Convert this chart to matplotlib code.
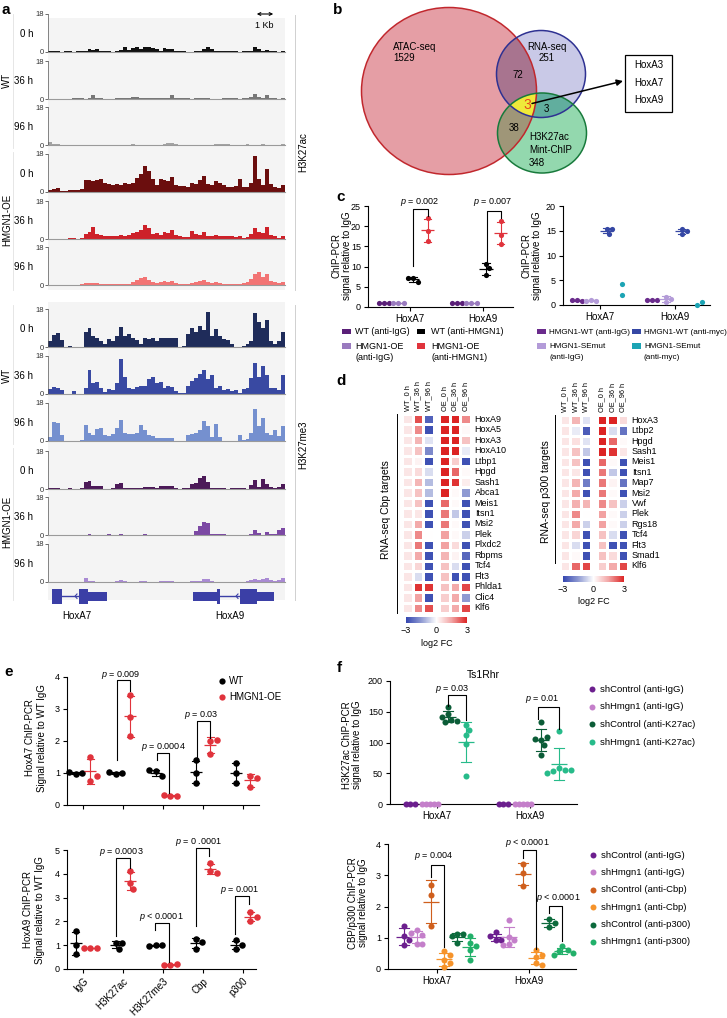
import numpy as np
import matplotlib
matplotlib.use('Agg')
import matplotlib.pyplot as plt
from matplotlib.patches import Ellipse, Rectangle, FancyArrowPatch
from matplotlib.colors import LinearSegmentedColormap, Normalize, to_rgb
from matplotlib.cm import ScalarMappable
from matplotlib.lines import Line2D

plt.rcParams['font.family'] = ['Liberation Sans', 'DejaVu Sans']
plt.rcParams['mathtext.fontset'] = 'custom'
plt.rcParams['mathtext.it'] = 'Liberation Sans:italic'
plt.rcParams['mathtext.rm'] = 'Liberation Sans'
plt.rcParams['font.size'] = 6.5

# ---------------- DATA ----------------
# panel a: binned track signal (60 bins across the locus), scale 0-18
ac_wt_0h = [0.3,0.3,0.3,0,0.3,0.3,0,0.3,0.3,0.3, 1.5,1.0,1.3,0.6,0.5,0.3,0,0.3,1.0,2.5,
            0.8,1.8,2.4,1.6,2.2,2.6,1.8,1.2,0.3,1.8, 1.4,1.2,0.6,0.3,0.3,0,0,0.3,0.3,1.5,
            2.6,1.2,0.4,0.3,0.3,0.3,0.3,0.3,0,0.3, 0.6,0.3,2.4,1.4,0.6,1.0,0.5,0.3,0,0.6]
ac_wt_36h = [0,0,0,0,0,0,0.3,0.3,0.3,0, 0.3,1.9,0.6,0.3,0,0,0,0.3,0.3,0.3,
             0.3,1.1,0.8,0.6,0.6,0.6,0.6,0.5,0.5,0.5, 0.5,1.9,0.3,0.3,0.3,0.3,0,0.3,0.3,0.3,
             0.3,0,0,0,0.3,0.3,0.3,0.3,0,0.3, 0.3,0.8,2.5,1.0,0.3,2.0,0.5,0.3,0,0.3]
ac_wt_96h = [1.2,0.3,0.3,0.2,0.2,0,0.2,0.2,0.2,0, 0.2,0.2,0,0.2,0.2,0,0.2,0.2,0.2,0,
             0.2,0.5,0.2,0.2,0.2,0,0.2,0.2,0.2,0.3, 1.0,1.0,0.3,0.2,0.2,0,0.2,0.2,0.2,0.2,
             0.2,0.2,0.5,0.5,0.5,0.5,0.2,0.2,0.2,0.2, 0.5,0.2,0.2,0.2,0.3,0.2,0.2,0.2,0.2,0.6]
ac_oe_0h = [0.8,1.3,1.8,0.4,0.4,0.8,1.0,0.9,1.5,5.5, 5.5,5.3,5.5,6.2,4.5,3.8,3.2,4.0,3.5,4.5,
            3.8,4.5,6.5,8.5,12.5,10,6,3.5,6,5.5, 5,7.3,3.5,3,2.8,2.5,4.5,3.8,5.5,7.5,
            4,3.5,5,4.2,3.5,2.5,2.2,3,6,2.5, 2.2,4.5,17,6,3.5,11,4,2.5,2,3.5]
ac_oe_36h = [0,0,0,0,0.2,0.4,0.3,0,0.3,2.5, 3.5,5.5,2.5,2,1.5,1.5,1.2,1.5,1.8,1.2,
             2,3,3.2,4.5,6.5,5,2.5,3,2,3.5, 3,4.5,2,1.2,1,1,4,2.5,2,3.2,
             1.5,1.5,2,1.5,1.5,1.5,1.2,1,1.5,0.5, 0.8,2.5,5,3.5,3,5.5,2,1.5,0.5,1.2]
ac_oe_96h = [0.2,0.2,0.2,0.2,0.2,0.2,0.2,0.2,0.3,1, 0.8,1,0.8,0.5,0.6,0.6,0.6,0.6,0.6,0.6,
             0.6,1.5,2.5,3.5,4,2.5,1.5,1,1.5,1.8, 1.5,1.8,1,0.5,0.5,0.5,1,1.5,1.8,2.5,
             1.5,1,1.2,0.8,0.5,0.5,0.5,0.5,0.5,0.8, 1.5,3,5,6,4,5,2,1.5,1,1.5]
me_wt_0h = [3,5.5,6.5,3.5,0,0.6,0.2,0,0,7, 9,5,4.5,3,1.5,4,3,5,9.5,5,
            6,4.5,3.5,1.5,4.5,4,4.5,3,4.5,4.5, 4.5,4.5,4.5,0,0.5,6,9,7,10,8,
            16.5,5,8.5,5,4,3.5,1.2,0.2,0.2,0.3, 1.5,3,16,12,9,13,3,1.5,3,7]
me_wt_36h = [2.5,3.5,3,2,0,0.2,1.5,0,0,3, 11.5,5,5.5,3,1,2.5,2,5,16.5,8,
             3,2.5,3.5,4,4,7,8,5,5.5,3, 4,3.5,1.5,0.3,0.3,4,6,7.5,9.5,11.5,
             7,9,3,4,2,2.5,1.5,2,0.3,2.5, 3,7.5,14.5,8,13.5,9,3,3,2,9]
me_wt_96h = [2,9,8.5,3,0.2,0.2,0.2,0.2,0.5,7.5, 4,3,5.5,6,3,2.5,3.5,6,10,4,
             3.5,3.5,4,7.5,5,3,2.5,1.5,1.5,1.5, 1.5,1.5,0.2,0.2,0.2,3,3.5,4,5,9.5,
             7,2,8,2,0.2,0.2,0.2,0.2,3,0.5, 1,4,15,7,11,4,3,5,2.5,7]
me_oe_0h = [0.3,0.3,0.3,0,0,0.3,0,0,0.3,3.5, 4,1.5,1.5,1.5,0.2,0.2,0.3,2.5,3,0.5,
            0.3,0.3,0.3,0.5,1,1,0.8,0.5,1.2,1.5, 1.5,1.5,0.3,0,0.3,0.3,2.5,3,5,6,
            3.5,0.3,0.3,0.3,0.3,0,0.3,0.3,0.3,0.3, 0,2,4.3,1,4.8,2.5,1,0.3,1,2.5]
me_oe_36h = [0.2,0.2,0.2,0.2,0.2,0.2,0.2,0.2,0.2,0.2, 0.3,0.2,0.2,0.2,0.2,0.3,0.2,0.2,0.3,0.2,
             0.2,0.2,0.2,0.2,0.3,0.2,0.2,0.2,0.2,0.2, 0.2,0.2,0.2,0.2,0.2,0.2,0.2,2,4.5,6,
             5.5,0.5,0.3,0.3,0.3,0.2,0.2,0.2,0.2,0.2, 0.2,0.3,2.5,1,0.2,1.5,0.5,0.3,2.5,3.5]
me_oe_96h = [0.2,0.2,0.2,0.2,0.2,0.2,0.2,0.2,0.2,2, 0.5,0.3,0.2,0.2,0.2,0.2,0.2,0.3,1,0.3,
             0.2,0.2,0.2,0.3,0.3,0.2,0.2,0.2,0.3,0.3, 0.3,0.3,0.2,0.2,0.2,0.2,0.3,0.3,0.5,1.2,
             1.5,0.3,0.2,0.2,0.2,0.2,0.2,0.2,0.2,0.2, 0.3,0.8,1.5,0.8,1.5,1.8,0.8,0.5,0.8,2]
time_labels = ['0 h', '36 h', '96 h']
genes_a = ['HoxA7', 'HoxA9']

# panel b
venn_names = ['ATAC-seq', 'RNA-seq', 'H3K27ac\nMint-ChIP']
venn_only = [1529, 251, 348]
venn_ab, venn_ac, venn_bc, venn_abc = 72, 38, 3, 3
venn_genes = ['HoxA3', 'HoxA7', 'HoxA9']

# panel c
c_genes = ['HoxA7', 'HoxA9']
c_wt_igg = [[1.0, 0.9, 1.05], [1.0, 1.0, 1.0]]
c_oe_igg = [[1.1, 1.0, 1.0], [1.1, 1.0, 1.0]]
c_wt_hmgn1 = [[7.2, 6.2, 7.3], [10.7, 9.6, 7.8]]
c_oe_hmgn1 = [[22.0, 18.7, 16.3], [21.2, 17.9, 15.7]]
c_p_left = ['p = 0.002', 'p = 0.007']
c2_wt_igg = [[1.0, 0.9, 1.0], [1.0, 1.0, 1.0]]
c2_se_igg = [[1.1, 0.9, 0.9], [1.7, 0.6, 1.2]]
c2_wt_myc = [[15.3, 14.4, 15.3], [15.3, 15.0, 14.3]]
c2_se_myc = [[4.2, 2.1], [0.1, 0.6]]

# panel d
d_cols = ['WT_0 h', 'WT_36 h', 'WT_96 h', 'OE_0 h', 'OE_36 h', 'OE_96 h']
cbp_genes = ['HoxA9', 'HoxA5', 'HoxA3', 'HoxA10', 'Ltbp1', 'Hpgd', 'Sash1', 'Abca1', 'Meis1',
             'Itsn1', 'Msi2', 'Plek', 'Plxdc2', 'Rbpms', 'Tcf4', 'Flt3', 'Phlda1', 'Clic4', 'Klf6']
cbp_fc = [[0.4, 2.5, -2.5, 3, 3, 1.8],
          [0.4, 1.8, -2.8, 3, 3, 0.1],
          [0.4, 1.2, -0.4, 3, 3, 1.0],
          [0.4, 1.0, -1.8, 3, 3, -0.3],
          [0.4, 0.2, -2.8, 3, 0.8, -2.8],
          [0.4, 0.6, -0.5, 3, 2.2, 0.1],
          [0.4, 1.2, -1.0, 3, 2.8, 0.3],
          [0.4, 1.0, -1.0, 3, 0.1, -1.5],
          [0.4, 1.0, -2.8, 2.2, 0.1, -2.8],
          [0.4, 0.4, -2.8, 2.0, -0.8, -2.8],
          [0.4, 1.4, -2.8, 2.0, 0.1, -2.8],
          [0.4, 1.8, 0.0, 1.5, 0.1, -0.7],
          [0.4, 2.0, -2.8, 1.5, 0.6, -2.8],
          [0.4, 1.4, -2.8, 1.2, 0.2, -2.4],
          [0.4, 0.7, -2.8, 1.0, -0.5, -2.8],
          [0.4, -0.5, -2.8, 1.0, -2.8, -2.8],
          [0.4, 2.8, 2.8, 1.0, 1.4, 2.6],
          [0.4, 1.5, -2.8, 0.8, 1.4, -1.5],
          [0.4, 1.8, 2.5, 0.8, 1.4, 2.6]]
p300_genes = ['HoxA3', 'Ltbp2', 'Hpgd', 'Sash1', 'Meis1', 'Itsn1', 'Map7', 'Msi2', 'Vwf', 'Plek',
              'Rgs18', 'Tcf4', 'Flt3', 'Smad1', 'Klf6']
p300_fc = [[0.4, 1.2, -0.4, 3, 3, 0.6],
           [0.4, -0.3, -2.6, 3, -0.5, -2.2],
           [0.4, 0.5, -0.4, 3, 2.2, 0.1],
           [0.4, 1.0, -0.8, 3, 2.8, 0.4],
           [0.4, 1.0, -2.8, 2.2, 0.1, -2.8],
           [0.4, 0.4, -2.8, 2.0, -0.8, -2.8],
           [0.4, 1.2, -2.0, 2.0, 0.2, -2.2],
           [0.4, 1.4, -2.8, 2.0, 0.1, -2.8],
           [0.4, 1.3, 1.2, 1.8, 1.0, -0.7],
           [0.4, 1.8, 0.0, 1.5, 0.1, -0.7],
           [0.4, 1.4, -0.7, 1.5, 0.1, -0.7],
           [0.4, 0.7, -2.8, 1.0, -0.5, -2.8],
           [0.4, -0.5, -2.8, 1.0, -2.8, -2.8],
           [0.4, 0.1, -2.8, 1.0, 0.6, -2.8],
           [0.4, 2.2, 2.6, 0.8, 1.4, 2.6]]

# panel e
e_cats = ['IgG', 'H3K27ac', 'H3K27me3', 'Cbp', 'p300']
e7_wt = [[0.97, 1.0, 1.02], [0.98, 1.0, 1.02], [1.05, 0.9, 1.08], [1.4, 1.0, 0.7], [1.3, 1.0, 0.7]]
e7_oe = [[1.5, 0.75, 0.9], [3.43, 2.75, 2.15], [0.28, 0.27, 0.3], [2.0, 2.02, 1.6], [0.9, 0.85, 0.55]]
e9_wt = [[1.6, 1.0, 0.65], [1.1, 0.85, 1.1], [1.0, 1.02, 0.98], [1.25, 1.15, 0.85], [1.2, 0.85, 1.0]]
e9_oe = [[0.87, 0.87, 0.87], [4.1, 3.6, 3.35], [0.18, 0.2, 0.17], [4.45, 4.1, 4.05], [2.4, 2.2, 2.0]]
e7_p = {1: 'p = 0.009', 2: 'p = 0.0004', 3: 'p = 0.03'}
e9_p = {1: 'p = 0.0003', 2: 'p < 0.0001', 3: 'p = 0 .0001', 4: 'p = 0.001'}

# panel f
f_genes = ['HoxA7', 'HoxA9']
f1_shc_igg = [[0, 0, 0], [0, 0, 0]]
f1_shh_igg = [[0, 0, 0, 0, 0], [0, 0, 0, 0, 0]]
f1_shc_k27 = [[157, 146, 137, 134, 135, 142], [134, 104, 109, 105, 96, 79]]
f1_shh_k27 = [[129, 112, 120, 97, 46], [118, 58, 55, 53, 55, 51]]
f2_shc_igg = [[1.39, 1.07, 0.94, 0.76], [1.17, 0.93, 0.92, 1.05]]
f2_shh_igg = [[1.24, 1.1, 0.81, 0.81, 1.15], [1.58, 1.02, 0.94, 0.81, 0.78]]
f2_shc_cbp = [[2.7, 2.38, 1.39], [3.36, 3.07, 2.67]]
f2_shh_cbp = [[0.57, 0.46, 0.3, 0.19, 0.05], [0.6, 0.46, 0.4, 0.19, 0.14]]
f2_shc_p300 = [[1.12, 1.12, 0.83, 1.05], [1.6, 1.47, 1.34]]
f2_shh_p300 = [[1.07, 0.83, 0.73, 0.62, 0.28], [0.73, 0.6, 0.57, 0.46, 0.51]]

# ---------------- FIGURE ----------------
W, H = 727, 1018
fig = plt.figure(figsize=(W / 100, H / 100), dpi=100)


def PX(l, t, r, b, **kw):
    return fig.add_axes([l / W, 1 - b / H, (r - l) / W, (b - t) / H], **kw)


def T(x, y, s, **kw):
    kw.setdefault('ha', 'center')
    kw.setdefault('va', 'center')
    return fig.text(x / W, 1 - y / H, s, **kw)


def FL(xs, ys, **kw):
    fig.add_artist(Line2D([x / W for x in xs], [1 - y / H for y in ys], transform=fig.transFigure, **kw))


def pfmt(s):
    return '$p$' + s[1:]


# panel letters
for (lx, ly, lt) in [(2, 10, 'a'), (333, 10, 'b'), (336, 197, 'c'), (336, 381, 'd'), (4, 672, 'e'), (337, 668, 'f')]:
    T(lx, ly, lt, fontsize=11, fontweight='bold', ha='left')

# ---------------- panel a ----------------
ac_tracks = [ac_wt_0h, ac_wt_36h, ac_wt_96h, ac_oe_0h, ac_oe_36h, ac_oe_96h]
me_tracks = [me_wt_0h, me_wt_36h, me_wt_96h, me_oe_0h, me_oe_36h, me_oe_96h]
ac_cols = ['#111111', '#777777', '#a3a3a3', '#6b0e0e', '#cd2129', '#f27474']
me_cols = ['#1f2c5a', '#3949a2', '#7590cf', '#4c1a58', '#7c49a4', '#a98ad3']
ac_tops = [14, 61, 107, 154, 201, 247]
me_tops = [309, 356, 403, 451, 497, 544]

for (y0, y1) in [(18, 290), (302, 600)]:
    bg = PX(48, y0, 285, y1)
    bg.set_facecolor('#f4f4f4')
    bg.set_xticks([]); bg.set_yticks([])
    for s in bg.spines.values():
        s.set_visible(False)


def draw_track(top, vals, col):
    ax = PX(48, top, 285, top + 38)
    ax.patch.set_alpha(0)
    v = np.asarray(vals, float)
    edges = np.arange(len(v) + 1)
    ax.fill_between(edges, np.append(v, v[-1]), step='post', color=col, lw=0)
    ax.set_xlim(0, len(v)); ax.set_ylim(0, 18)
    ax.set_xticks([])
    ax.set_yticks([0, 18])
    ax.tick_params(axis='y', labelsize=5.5, length=2, width=0.5, pad=1, colors='#333333')
    for s in ['top', 'right']:
        ax.spines[s].set_visible(False)
    ax.spines['left'].set_color('#555555'); ax.spines['left'].set_linewidth(0.5)
    ax.spines['bottom'].set_color('#9a9a9a'); ax.spines['bottom'].set_linewidth(0.8)


for i in range(6):
    draw_track(ac_tops[i], ac_tracks[i], ac_cols[i])
    T(33, ac_tops[i] + 20, time_labels[i % 3], ha='right', fontsize=7)
    draw_track(me_tops[i], me_tracks[i], me_cols[i])
    T(33, me_tops[i] + 20, time_labels[i % 3], ha='right', fontsize=7)

for (yc, lab) in [(80, 'WT'), (220, 'HMGN1-OE'), (375, 'WT'), (522, 'HMGN1-OE')]:
    T(7, yc, lab, rotation=90, fontsize=7)
for (ya, yb) in [(14, 148), (152, 290), (305, 444), (448, 600)]:
    FL([13, 13], [ya, yb], color='#e2e2e2', lw=0.6)
FL([295, 295], [15, 290], color='#d0d0d0', lw=0.7)
FL([295, 295], [305, 600], color='#d0d0d0', lw=0.7)
T(303, 152, 'H3K27ac', rotation=90, fontsize=7)
T(303, 445, 'H3K27me3', rotation=90, fontsize=7)
fig.add_artist(FancyArrowPatch((254 / W, 1 - 14 / H), (276 / W, 1 - 14 / H), transform=fig.transFigure,
                               arrowstyle='<->', mutation_scale=5, lw=0.8, color='black'))
T(264, 25, '1 Kb', fontsize=6.5)

# gene models
gax = PX(48, 584, 285, 608)
gax.set_xlim(48, 285); gax.set_ylim(608, 584); gax.axis('off')
gcol = '#3b3fa6'
gene_models = [  # (tall exons, short utr boxes, intron span, arrow x)
    ([(51.7, 61.7), (79, 88.3)], [(88.3, 107.3)], (61.7, 79), 75),
    ([(216.7, 220.5), (240, 256.7)], [(193.3, 216.7), (256.7, 274)], (220.5, 240), 236),
]
for tall, short, intr, ax_ in gene_models:
    for a, b in tall:
        gax.add_patch(Rectangle((a, 588.5), b - a, 15.5, color=gcol, lw=0))
    for a, b in short:
        gax.add_patch(Rectangle((a, 591.8), b - a, 9, color=gcol, lw=0))
    gax.plot(intr, [596.2, 596.2], color=gcol, lw=1)
    gax.plot([ax_ + 2, ax_, ax_ + 2], [594, 596.2, 598.4], color=gcol, lw=0.8)
T(77, 616, genes_a[0], fontsize=7)
T(230, 616, genes_a[1], fontsize=7)

# ---------------- panel b ----------------
vax = PX(330, 0, 727, 190)
vax.set_xlim(330, 727); vax.set_ylim(190, 0); vax.axis('off')
circA = ((449, 91), 175, 167)
circB = ((541, 74), 89, 87)
circC = ((542, 133), 89, 80)
gx, gy = np.meshgrid(np.arange(330, 727, 0.5) + 0.25, np.arange(0, 190, 0.5) + 0.25)


def inside(c):
    (cx, cy), w, h = c
    return ((gx - cx) / (w / 2)) ** 2 + ((gy - cy) / (h / 2)) ** 2 <= 1


iA, iB, iC = inside(circA), inside(circB), inside(circC)
img = np.ones(gx.shape + (4,))
img[..., 3] = 0
region_cols = [
    (iA & ~iB & ~iC, '#e59ea5'), (iB & ~iA & ~iC, '#c9c9e7'), (iC & ~iA & ~iB, '#93d8ae'),
    (iA & iB & ~iC, '#a8758f'), (iA & iC & ~iB, '#a09679'), (iB & iC & ~iA, '#62ae9f'),
    (iA & iB & iC, '#f0ea3a')]
for m, c in region_cols:
    img[m, :3] = to_rgb(c)
    img[m, 3] = 1
vax.imshow(img, extent=(330, 727, 190, 0), interpolation='bilinear', zorder=1)
for c, ec in [(circA, '#c1272d'), (circB, '#2e3192'), (circC, '#177a3b')]:
    vax.add_patch(Ellipse(c[0], c[1], c[2], fill=False, ec=ec, lw=1.1, zorder=2))
vax.text(393, 47, venn_names[0], ha='left', va='center', fontsize=7)
vax.text(393, 58, str(venn_only[0]), ha='left', va='center', fontsize=7)
vax.text(547, 47, venn_names[1], ha='center', va='center', fontsize=7)
vax.text(547, 58, str(venn_only[1]), ha='center', va='center', fontsize=7)
vax.text(529, 137, 'H3K27ac', ha='left', va='center', fontsize=7)
vax.text(529, 150, 'Mint-ChIP', ha='left', va='center', fontsize=7)
vax.text(529, 163, str(venn_only[2]), ha='left', va='center', fontsize=7)
vax.text(518, 75, str(venn_ab), ha='center', va='center', fontsize=7)
vax.text(514, 128, str(venn_ac), ha='center', va='center', fontsize=7)
vax.text(546, 109, str(venn_bc), ha='center', va='center', fontsize=7)
vax.text(527, 105, str(venn_abc), ha='center', va='center', fontsize=10, color='#e8461e')
vax.add_patch(FancyArrowPatch((532, 103.5), (623, 81), arrowstyle='-|>', mutation_scale=9, lw=1.1,
                              color='black', zorder=4, shrinkA=0, shrinkB=0))
vax.add_patch(Rectangle((625, 55), 47, 57, fill=False, ec='black', lw=0.9, zorder=4))
for k, g in enumerate(venn_genes):
    vax.text(648.5, 65 + 17.5 * k, g, ha='center', va='center', fontsize=7)


# ---------------- helpers for dot plots ----------------
def swarm(vals, ppx, ppy, d):
    placed = []
    offs = []
    for v in vals:
        y = v * ppy
        for k in [0, 1, -1, 2, -2, 3, -3, 4, -4, 5, -5, 6, -6]:
            xo = k * d * 0.5
            if all((xo - px) ** 2 + (y - py) ** 2 >= (0.95 * d) ** 2 for px, py in placed):
                break
        placed.append((xo, y))
        offs.append(xo / ppx)
    return np.array(offs)


def group(ax, x, vals, color, s, ppx, ppy, d, bars=True, hw=0.09, cw=0.05, lw=0.9, ecolor=None):
    v = np.asarray(vals, float)
    offs = swarm(v, ppx, ppy, d)
    ax.scatter(x + offs, v, s=s, color=color, zorder=3, linewidths=0, clip_on=False)
    if bars and len(v) > 1:
        ec = ecolor or color
        m, sd = v.mean(), v.std(ddof=1)
        ax.plot([x - hw, x + hw], [m, m], color=ec, lw=lw, zorder=4, solid_capstyle='butt')
        ax.plot([x, x], [m - sd, m + sd], color=ec, lw=lw * 0.9, zorder=4)
        for yy in (m - sd, m + sd):
            ax.plot([x - cw, x + cw], [yy, yy], color=ec, lw=lw * 0.9, zorder=4)


def style(ax):
    for s in ['top', 'right']:
        ax.spines[s].set_visible(False)
    for s in ['left', 'bottom']:
        ax.spines[s].set_linewidth(0.8)
    ax.tick_params(labelsize=6.5, length=3, width=0.8, pad=2)
    ax.patch.set_alpha(0)


def bracket(ax, x1, x2, y1, y2, ytop, txt, ty, tx=None, fs=6.5):
    ax.plot([x1, x1, x2, x2], [y1, ytop, ytop, y2], color='black', lw=0.8, zorder=5, clip_on=False)
    ax.text((x1 + x2) / 2 if tx is None else tx, ty, pfmt(txt), ha='center', va='center', fontsize=fs,
            clip_on=False)


# ---------------- panel c ----------------
c1 = PX(368, 206, 513, 307)
style(c1)
c1.set_xlim(-0.575, 1.41); c1.set_ylim(0, 25)
c1.set_yticks([0, 5, 10, 15, 20, 25]); c1.set_xticks([0, 1]); c1.set_xticklabels(c_genes, fontsize=7)
ppx1, ppy1 = 73, 101 / 25
c_left_groups = [(c_wt_igg, '#5a1f78', -0.36), (c_oe_igg, '#9a7bbf', -0.16),
                 (c_wt_hmgn1, '#000000', 0.04), (c_oe_hmgn1, '#e0333c', 0.24)]
for gi in range(2):
    for vals, col, off in c_left_groups:
        group(c1, gi + off, vals[gi], col, 14, ppx1, ppy1, 5.2)
bracket(c1, 0.04, 0.24, 10.2, 22.6, 24.3, c_p_left[0], 25.9, tx=0.14, fs=6.5)
bracket(c1, 1.05, 1.24, 11.1, 22.0, 23.7, c_p_left[1], 25.9, tx=1.14, fs=6.5)
T(342, 256, 'ChIP-PCR\nsignal relative to IgG', rotation=90, fontsize=7, linespacing=1.1)

c2 = PX(563, 206, 710, 305)
style(c2)
c2.set_xlim(-0.493, 1.467); c2.set_ylim(0, 20)
c2.set_yticks([0, 5, 10, 15, 20]); c2.set_xticks([0, 1]); c2.set_xticklabels(c_genes, fontsize=7)
ppx2, ppy2 = 75, 99 / 20
c_right_groups = [(c2_wt_igg, '#6a2b8c', -0.31, True), (c2_se_igg, '#b39bd8', -0.12, True),
                  (c2_wt_myc, '#3547a4', 0.09, True), (c2_se_myc, '#1ca4b4', 0.29, False)]
for gi in range(2):
    for vals, col, off, bars in c_right_groups:
        group(c2, gi + off, vals[gi], col, 14, ppx2, ppy2, 5.2, bars=bars)
T(532, 256, 'ChIP-PCR\nsignal relative to IgG', rotation=90, fontsize=7, linespacing=1.1)


def rect_leg(x, y, col, lines, tx, fs=6.5):
    fig.add_artist(Rectangle((x / W, 1 - (y + 2.5) / H), 8.5 / W, 5 / H, transform=fig.transFigure,
                             color=col, lw=0))
    for k, ln in enumerate(lines):
        T(tx, y + 11.5 * k, ln, ha='left', fontsize=fs)


rect_leg(342, 332, '#5a1f78', ['WT (anti-IgG)'], 355)
rect_leg(417, 332, '#000000', ['WT (anti-HMGN1)'], 431)
rect_leg(342, 346, '#9a7bbf', ['HMGN1-OE', '(anti-IgG)'], 355)
rect_leg(417, 346, '#e0333c', ['HMGN1-OE', '(anti-HMGN1)'], 431)
rect_leg(537, 332, '#6a2b8c', ['HMGN1-WT (anti-IgG)'], 549, fs=5.9)
rect_leg(632, 332, '#3547a4', ['HMGN1-WT (anti-myc)'], 644, fs=5.9)
rect_leg(537, 346, '#b39bd8', ['HMGN1-SEmut', '(anti-IgG)'], 549, fs=5.9)
rect_leg(632, 346, '#1ca4b4', ['HMGN1-SEmut', '(anti-myc)'], 644, fs=5.9)

# ---------------- panel d ----------------
hcmap = LinearSegmentedColormap.from_list('hm', ['#3446b0', '#8f9ad2', '#ffffff', '#f2a4a4', '#dc2424'])
GAP = 0.55


def heat(l, t, r, b, data, genes):
    ax = PX(l, t, r, b)
    d = np.asarray(data, float)
    n = len(genes)
    ye = np.arange(n + 1)
    ax.pcolormesh(np.arange(4), ye, d[:, :3], cmap=hcmap, vmin=-3, vmax=3, edgecolors='white', linewidth=0.9)
    ax.pcolormesh(np.arange(4) + 3 + GAP, ye, d[:, 3:], cmap=hcmap, vmin=-3, vmax=3, edgecolors='white',
                  linewidth=0.9)
    ax.set_xlim(0, 6 + GAP); ax.set_ylim(n, 0); ax.axis('off')
    for i, g in enumerate(genes):
        ax.text(6 + GAP + 0.35, i + 0.5, g, ha='left', va='center', fontsize=6.5)
    centers = [0.5, 1.5, 2.5, 3.5 + GAP, 4.5 + GAP, 5.5 + GAP]
    for c, lab in zip(centers, d_cols):
        ax.text(c, -0.3, lab, rotation=90, ha='center', va='bottom', fontsize=5.3)
    return ax


heat(402, 414, 471, 613, cbp_fc, cbp_genes)
heat(560, 415, 628, 571, p300_fc, p300_genes)
FL([397, 397], [414, 613], color='black', lw=0.7)
FL([555, 555], [415, 563], color='black', lw=0.7)
T(386, 510, 'RNA-seq Cbp targets', rotation=90, fontsize=7.5)
T(546, 492, 'RNA-seq p300 targets', rotation=90, fontsize=7.5)
sm = ScalarMappable(norm=Normalize(-3, 3), cmap=hcmap)
for (l, t, r, b, ly) in [(406, 617, 467, 623, 643), (563, 576, 624, 582, 601)]:
    cax = PX(l, t, r, b)
    cb = fig.colorbar(sm, cax=cax, orientation='horizontal', ticks=[-3, 0, 3])
    cb.outline.set_visible(False)
    cb.set_ticklabels(['\u22123', '0', '3'])
    cax.tick_params(length=0, labelsize=6.5, pad=2)
    T((l + r) / 2, ly, 'log2 FC', fontsize=6.5)

# ---------------- panel e ----------------
e_ppx = 40


def e_panel(t, b, r, ymax, wt, oe, ticks_lab):
    ax = PX(67, t, r, b)
    style(ax)
    ax.set_xlim(-0.4, (r - 83) / 40); ax.set_ylim(0, ymax)
    ax.set_yticks(range(0, ymax + 1))
    ax.set_xticks(range(5))
    ppy = (b - t) / ymax
    for i in range(5):
        group(ax, i - 0.18, wt[i], '#000000', 22, e_ppx, ppy, 6.5, hw=0.15, cw=0.09)
        group(ax, i + 0.18, oe[i], '#e0333c', 22, e_ppx, ppy, 6.5, hw=0.15, cw=0.09)
    if ticks_lab:
        ax.set_xticklabels(e_cats, rotation=45, ha='right', rotation_mode='anchor', fontsize=7)
    else:
        ax.set_xticklabels([])
    return ax


e1 = e_panel(677, 805, 259, 4, e7_wt, e7_oe, False)
bracket(e1, 0.85, 1.18, 1.4, 3.55, 3.9, e7_p[1], 4.05, tx=0.95)
bracket(e1, 1.85, 2.15, 1.4, 0.38, 1.62, e7_p[2], 1.82, tx=2.0)
bracket(e1, 2.85, 3.18, 1.45, 2.1, 2.62, e7_p[3], 2.82, tx=2.97)
T(36, 738, 'HoxA7 ChIP-PCR\nSignal relative to WT IgG', rotation=90, fontsize=7, linespacing=1.15)
for (yy, col, lab) in [(681, '#000000', 'WT'), (697, '#e0333c', 'HMGN1-OE')]:
    fig.add_artist(Line2D([222 / W], [1 - yy / H], marker='o', ms=4.5, color=col, mew=0,
                          transform=fig.transFigure))
    T(229, yy, lab, ha='left', fontsize=7)

e2 = e_panel(850, 969, 256, 5, e9_wt, e9_oe, True)
bracket(e2, 0.82, 1.18, 1.4, 4.23, 4.65, e9_p[1], 4.92, tx=0.97)
bracket(e2, 1.8, 2.15, 1.65, 0.3, 1.93, e9_p[2], 2.2, tx=1.96)
bracket(e2, 2.82, 3.15, 1.8, 4.75, 5.07, e9_p[3], 5.33, tx=2.9)
bracket(e2, 3.8, 4.15, 1.45, 2.74, 3.05, e9_p[4], 3.32, tx=3.92)
T(34, 910, 'HoxA9 ChIP-PCR\nSignal relative to WT IgG', rotation=90, fontsize=7, linespacing=1.15)

# ---------------- panel f ----------------
f1 = PX(390, 681, 577, 804)
style(f1)
f1.set_xlim(-0.505, 1.505); f1.set_ylim(0, 200)
f1.set_yticks([0, 50, 100, 150, 200]); f1.set_xticks([0, 1]); f1.set_xticklabels(f_genes, fontsize=7)
fppx, fppy1 = 93, 123 / 200
f1_groups = [(f1_shc_igg, '#6c1f8e', -0.29, 4.5), (f1_shh_igg, '#c47fca', -0.08, 4.0),
             (f1_shc_k27, '#0b5c37', 0.12, 6.0), (f1_shh_k27, '#27bb8a', 0.31, 6.0)]
for gi in range(2):
    for vals, col, off, dd in f1_groups:
        group(f1, gi + off, vals[gi], col, 19, fppx, fppy1, dd, hw=0.087, cw=0.054)
bracket(f1, 0.12, 0.31, 160, 136, 177, 'p = 0.03', 187, tx=0.16)
bracket(f1, 1.09, 1.31, 139, 122, 158, 'p = 0.01', 170, tx=1.13)
T(483, 675, 'Ts1Rhr', fontsize=7.5)
T(352, 745, 'H3K27ac ChIP-PCR\nsignal relative to IgG', rotation=90, fontsize=7, linespacing=1.1)
f1_leg = [('#6c1f8e', 'shControl (anti-IgG)'), ('#c47fca', 'shHmgn1 (anti-IgG)'),
          ('#0b5c37', 'shControl (anti-K27ac)'), ('#27bb8a', 'shHmgn1 (anti-K27ac)')]
for k, (col, lab) in enumerate(f1_leg):
    yy = 689 + 17.7 * k
    fig.add_artist(Line2D([592 / W], [1 - yy / H], marker='o', ms=4.3, color=col, mew=0,
                          transform=fig.transFigure))
    T(600, yy, lab, ha='left', fontsize=6.8)

f2 = PX(388, 844, 576, 969)
style(f2)
f2.set_xlim(-0.533, 1.511); f2.set_ylim(0, 4)
f2.set_yticks([0, 1, 2, 3, 4]); f2.set_xticks([0, 1]); f2.set_xticklabels(f_genes, fontsize=7)
fppy2 = 125 / 4
f2_groups = [(f2_shc_igg, '#6c1f8e', -0.36), (f2_shh_igg, '#c47fca', -0.22),
             (f2_shc_cbp, '#cf5f1d', -0.07), (f2_shh_cbp, '#f6932a', 0.08),
             (f2_shc_p300, '#0c6a3c', 0.22), (f2_shh_p300, '#22b06a', 0.36)]
for gi in range(2):
    for vals, col, off in f2_groups:
        group(f2, gi + off, vals[gi], col, 19, 92, fppy2, 5.5, hw=0.087, cw=0.054)
bracket(f2, -0.07, 0.08, 2.95, 0.7, 3.33, 'p = 0.004', 3.62, tx=-0.03)
bracket(f2, 0.93, 1.08, 3.55, 0.64, 3.82, 'p < 0.0001', 4.03, tx=0.98)
bracket(f2, 1.22, 1.36, 1.79, 0.9, 2.03, 'p < 0.0001', 2.27, tx=1.32)
T(358, 903, 'CBP/p300 ChIP-PCR\nsignal relative to IgG', rotation=90, fontsize=7, linespacing=1.1)
f2_leg = [('#6c1f8e', 'shControl (anti-IgG)'), ('#c47fca', 'shHmgn1 (anti-IgG)'),
          ('#cf5f1d', 'shControl (anti-Cbp)'), ('#f6932a', 'shHmgn1 (anti-Cbp)'),
          ('#0c6a3c', 'shControl (anti-p300)'), ('#22b06a', 'shHmgn1 (anti-p300)')]
for k, (col, lab) in enumerate(f2_leg):
    yy = 855 + 17.4 * k
    fig.add_artist(Line2D([593 / W], [1 - yy / H], marker='o', ms=4.3, color=col, mew=0,
                          transform=fig.transFigure))
    T(601, yy, lab, ha='left', fontsize=6.8)

fig.savefig('out.png', dpi=100)
